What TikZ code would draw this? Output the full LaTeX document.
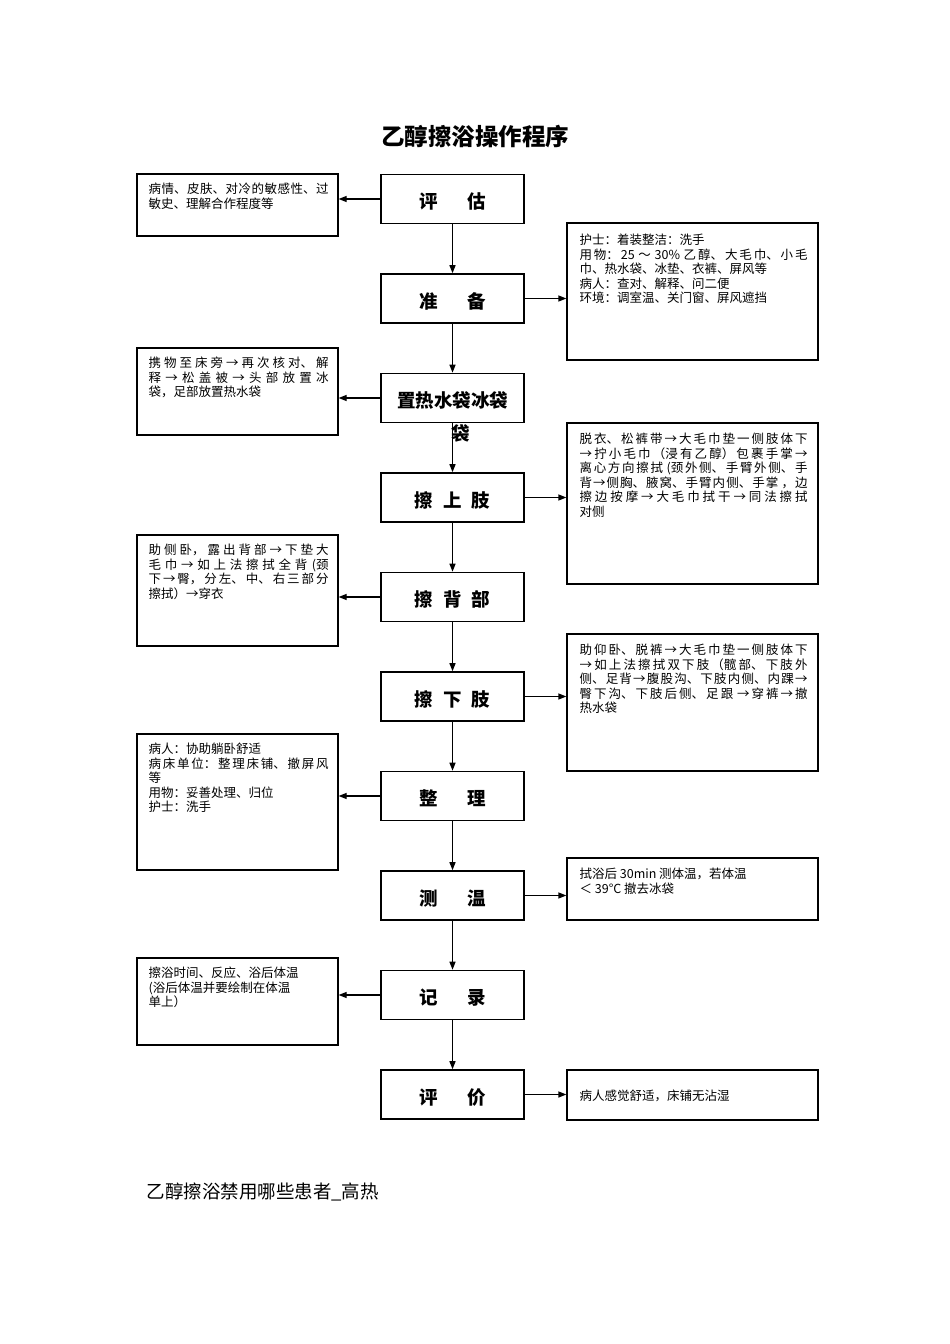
\documentclass[tikz,border=0pt]{standalone}
\usepackage{fontspec}
\setmainfont{Noto Sans CJK SC}
\XeTeXlinebreaklocale "zh"
\XeTeXlinebreakskip = 0pt plus 3pt minus 0.5pt
\usetikzlibrary{arrows.meta}

\begin{document}
\begin{tikzpicture}[x=1pt,y=-1pt]
\tikzstyle{stepbox} = [draw, line width=1.6pt, minimum width=143pt, minimum height=49pt, inner sep=0pt, font=\fontsize{18.5}{20}\selectfont\bfseries]
\tikzstyle{notebox} = [draw, line width=1.2pt, inner sep=0pt]
\tikzstyle{lnote} = [notebox, minimum width=201pt]
\tikzstyle{rnote} = [notebox, minimum width=251pt]
\tikzstyle{notetext} = [anchor=north west, inner sep=0pt, align=justify, font=\fontsize{12.5}{14.5}\selectfont]
\tikzstyle{flow} = [-{Triangle[length=8pt,width=6pt]}, line width=1.2pt]

\useasboundingbox (0,0) rectangle (950,1344);
\node[font=\fontsize{23.5}{26}\selectfont\bfseries] (title) at (475,137) {乙醇擦浴操作程序};

% main steps
\foreach \lbl [count=\i] in {评\hspace{30pt}估, 准\hspace{30pt}备, 置热水袋冰袋,
    擦\hspace{10pt}上\hspace{10pt}肢, 擦\hspace{10pt}背\hspace{10pt}部, 擦\hspace{10pt}下\hspace{10pt}肢,
    整\hspace{30pt}理, 测\hspace{30pt}温, 记\hspace{30pt}录, 评\hspace{30pt}价}
  \node[stepbox, text height=21pt, text depth=2pt] (b\i) at (452.5,{199+99.5*(\i-1)}) {\lbl};
\foreach \i [count=\j from 2] in {1,...,9}
  \draw[flow] (b\i.south) -- (b\j.north);
\node[font=\fontsize{18.5}{20}\selectfont\bfseries, inner sep=0pt] (b3x) at (461,433) {袋};

% left notes
\node[lnote, minimum height=62pt] (l1) at (237.5,205) {};
\node[notetext, text width=180pt] (l1t) at ([xshift=12pt,yshift=-9.5pt]l1.north west)
  {病情、皮肤、对冷的敏感性、过\linebreak 敏史、理解合作程度等};
\node[lnote, minimum height=87pt] (l2) at (237.5,391.5) {};
\node[notetext, text width=180pt] (l2t) at ([xshift=12pt,yshift=-9.5pt]l2.north west)
  {携物至床旁→再次核对、解\linebreak 释→松盖被→头部放置冰\linebreak 袋，足部放置热水袋};
\node[lnote, minimum height=111pt] (l3) at (237.5,590.5) {};
\node[notetext, text width=180pt] (l3t) at ([xshift=12pt,yshift=-9.5pt]l3.north west)
  {助侧卧，露出背部→下垫大\linebreak 毛巾→如上法擦拭全背 (颈\linebreak 下→臀，分左、中、右三部分\linebreak 擦拭）→穿衣};
\node[lnote, minimum height=136pt] (l4) at (237.5,802) {};
\node[notetext, text width=180pt] (l4t) at ([xshift=12pt,yshift=-9.5pt]l4.north west)
  {病人：协助躺卧舒适\\病床单位：整理床铺、撤屏风\linebreak 等\\用物：妥善处理、归位\\护士：洗手};
\node[lnote, minimum height=87pt] (l5) at (237.5,1001.5) {};
\node[notetext, text width=180pt] (l5t) at ([xshift=12pt,yshift=-9.5pt]l5.north west)
  {擦浴时间、反应、浴后体温\\(浴后体温并要绘制在体温\\单上）};

% right notes
\node[rnote, minimum height=137pt] (r1) at (692.5,291.5) {};
\node[notetext, text width=228pt] (r1t) at ([xshift=13pt,yshift=-11.5pt]r1.north west)
  {护士：着装整洁：洗手\\用物：25 ～ 30\% 乙醇、大毛巾、小毛\linebreak 巾、热水袋、冰垫、衣裤、屏风等\\病人：查对、解释、问二便\\环境：调室温、关门窗、屏风遮挡};
\node[rnote, minimum height=161pt] (r2) at (692.5,503.5) {};
\node[notetext, text width=228pt] (r2t) at ([xshift=13pt,yshift=-10.5pt]r2.north west)
  {脱衣、松裤带→大毛巾垫一侧肢体下\linebreak →拧小毛巾（浸有乙醇）包裹手掌→\linebreak 离心方向擦拭 (颈外侧、手臂外侧、手\linebreak 背→侧胸、腋窝、手臂内侧、手掌 ，边\linebreak 擦边按摩→大毛巾拭干→同法擦拭\linebreak 对侧};
\node[rnote, minimum height=137pt] (r3) at (692.5,702.5) {};
\node[notetext, text width=228pt] (r3t) at ([xshift=13pt,yshift=-10.5pt]r3.north west)
  {助仰卧、脱裤→大毛巾垫一侧肢体下\linebreak →如上法擦拭双下肢（髋部、下肢外\linebreak 侧、足背→腹股沟、下肢内侧、内踝→\linebreak 臀下沟、下肢后侧、足跟 →穿裤→撤\linebreak 热水袋};
\node[rnote, minimum height=62pt] (r4) at (692.5,889) {};
\node[notetext, text width=228pt] (r4t) at ([xshift=13pt,yshift=-10.5pt]r4.north west)
  {拭浴后 30min 测体温，若体温\\＜ 39°C 撤去冰袋};
\node[rnote, minimum height=50pt] (r5) at (692.5,1095) {};
\node[notetext, text width=228pt, anchor=west] (r5t) at ([xshift=13pt,yshift=-1pt]r5.west)
  {病人感觉舒适，床铺无沾湿};

% side arrows
\foreach \b/\n in {1/1,3/2,5/3,7/4,9/5}
  \draw[flow] (b\b.west) -- (b\b.west -| l\n.east);
\foreach \b/\n in {2/1,4/2,6/3,8/4,10/5}
  \draw[flow] (b\b.east) -- (b\b.east -| r\n.west);

\node[anchor=west, font=\fontsize{18.5}{20}\selectfont] (note) at (143,1192) {乙醇擦浴禁用哪些患者\_高热};
\end{tikzpicture}
\end{document}
